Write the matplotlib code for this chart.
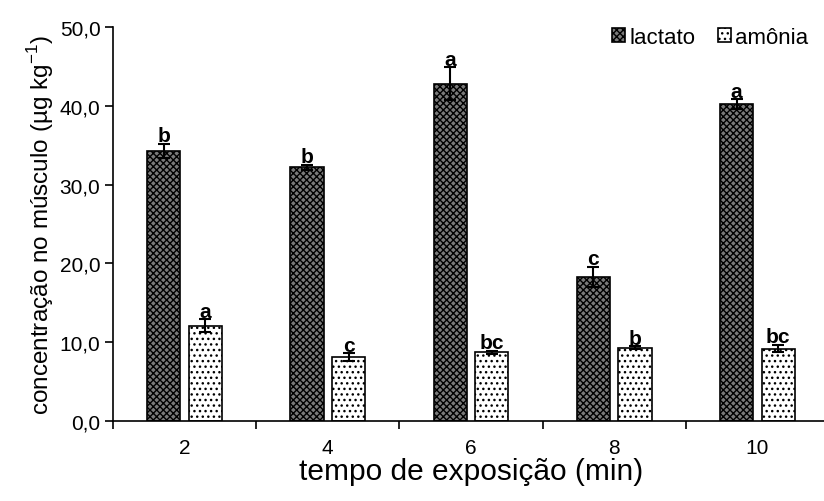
import matplotlib
matplotlib.use("Agg")
import matplotlib.pyplot as plt
import numpy as np
from matplotlib.ticker import FuncFormatter, FixedLocator

plt.rcParams['font.family'] = ['Liberation Sans', 'DejaVu Sans']
plt.rcParams['hatch.linewidth'] = 1.0
plt.rcParams['mathtext.fontset'] = 'custom'
plt.rcParams['mathtext.rm'] = 'Liberation Sans'

categories = ['2', '4', '6', '8', '10']
lactato = [34.3, 32.2, 42.8, 18.3, 40.2]
lactato_err = [0.9, 0.3, 2.1, 1.3, 0.6]
amonia = [12.1, 8.1, 8.7, 9.3, 9.2]
amonia_err = [0.8, 0.5, 0.2, 0.2, 0.5]
lactato_letters = ['b', 'b', 'a', 'c', 'a']
amonia_letters = ['a', 'c', 'bc', 'b', 'bc']

fig = plt.figure(figsize=(8.24, 5.02), dpi=100)
ax = fig.add_axes([113/824, 80/502, 716/824, 394/502])

x = np.arange(len(categories))
w = 0.232
off = 0.145

b1 = ax.bar(x - off, lactato, w, facecolor='#7a7a7a', edgecolor='black', hatch='xxxxx', linewidth=1.2, label='lactato')
b2 = ax.bar(x + off, amonia, w, facecolor='white', edgecolor='black', hatch='...', linewidth=1.2, label='amônia')
ax.errorbar(x - off, lactato, yerr=lactato_err, fmt='none', ecolor='black', elinewidth=1.5, capsize=4, capthick=1.5)
ax.errorbar(x + off, amonia, yerr=amonia_err, fmt='none', ecolor='black', elinewidth=1.5, capsize=4, capthick=1.5)

for xi, v, e, t in zip(x - off, lactato, lactato_err, lactato_letters):
    ax.text(xi, v + e - 0.2, t, ha='center', va='bottom', fontsize=15, fontweight='bold')
for xi, v, e, t in zip(x + off, amonia, amonia_err, amonia_letters):
    ax.text(xi, v + e - 0.2, t, ha='center', va='bottom', fontsize=15, fontweight='bold')

ax.set_xlim(-0.5, 4.5)
ax.set_ylim(0, 50)
ax.set_yticks(np.arange(0, 51, 10))
ax.yaxis.set_major_formatter(FuncFormatter(lambda v, p: f"{v:.1f}".replace('.', ',')))
ax.set_xticks(x)
ax.set_xticklabels(categories, fontsize=15)
ax.xaxis.set_minor_locator(FixedLocator(np.arange(-0.5, 4.6, 1.0)))
ax.tick_params(axis='x', which='major', length=0, pad=12)
ax.tick_params(axis='x', which='minor', length=6, width=1.2, direction='out')
ax.tick_params(axis='y', which='major', length=6, width=1.2, direction='out', labelsize=15, pad=3)
for s in ['top', 'right']:
    ax.spines[s].set_visible(False)
for s in ['left', 'bottom']:
    ax.spines[s].set_linewidth(1.2)

ax.set_xlabel('tempo de exposição (min)', fontsize=21.5, labelpad=0)
ax.set_ylabel('concentração no músculo (µg kg$^{\\mathregular{-1}}$)', fontsize=17.5, labelpad=3)

leg = fig.legend(handles=[b1, b2], loc='upper right', bbox_to_anchor=(1.0, 0.975), ncol=2, frameon=False,
                 fontsize=16, handlelength=0.6, handleheight=0.6, handletextpad=0.2, columnspacing=1.0,
                 borderaxespad=0.3)

fig.savefig('out.png', dpi=100)
